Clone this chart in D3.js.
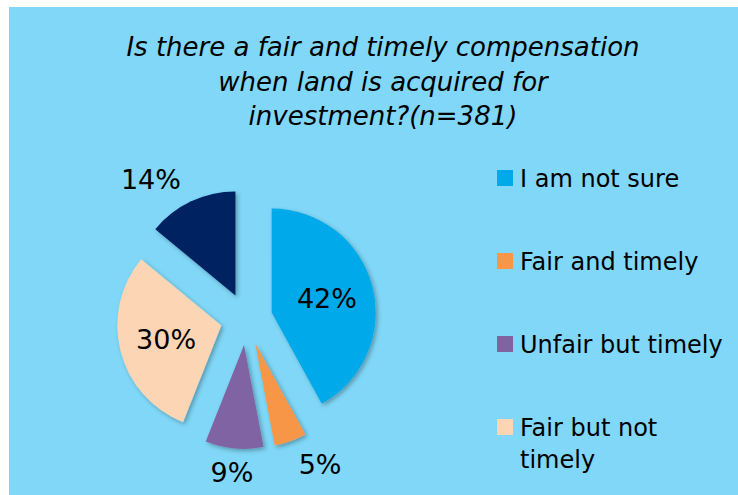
<!DOCTYPE html>
<html lang="en">
<head>
<meta charset="UTF-8">
<title>Fair and timely compensation</title>
<script src="https://d3js.org/d3.v7.min.js"></script>
<style>
    body{
        margin: 0;
        background: #fff;
    }
    svg text{
        font-family: "DejaVu Sans", Verdana, sans-serif;
        fill: #000;
    }
</style>
</head>
<body>
<svg width="738" height="495"></svg>
<script>
    // chart data
    const titleLines = ["Is there a fair and timely compensation", "when land is acquired for", "investment?(n=381)"];
    const categories = ["I am not sure", "Fair and timely", "Unfair but timely", "Fair but not timely", "Unfair and not timely"];
    const values = [42, 5, 9, 30, 14];
    const colors = ["#00a9ea", "#f79646", "#8064a2", "#fcd5b5", "#002060"];
    const legendCount = 4;   // last entry is cut off in the original

    const W = 738, H = 495;
    const cx = 246.5, cy = 319, R = 104, explode = 26;

    let svg = d3.select("svg");

    let defs = svg.append("defs");
    defs.append("filter").attr("id", "shadow")
        .attr("x", "-20%").attr("y", "-20%").attr("width", "140%").attr("height", "140%")
        .append("feDropShadow")
        .attr("dx", 2).attr("dy", 2).attr("stdDeviation", 2)
        .attr("flood-color", "#000").attr("flood-opacity", 0.3);

    // background panel
    svg.append("rect")
        .attr("x", 9).attr("y", 7)
        .attr("width", W - 9).attr("height", H - 7)
        .attr("fill", "#80d7f7");

    // title
    svg.append("g").selectAll("text")
        .data(titleLines)
        .enter().append("text")
        .attr("x", 383)
        .attr("y", (d, i) => 56 + i * 34.5)
        .attr("text-anchor", "middle")
        .attr("font-style", "italic")
        .attr("font-size", "26px")
        .text(d => d);

    // pie
    const pie = d3.pie().sort(null).value(d => d);
    const arcs = pie(values);
    const arc = d3.arc().innerRadius(0).outerRadius(R);

    const mid = d => (d.startAngle + d.endAngle) / 2;
    const offset = (d, r) => [Math.sin(mid(d)) * r, -Math.cos(mid(d)) * r];

    let g = svg.append("g").attr("transform", `translate(${cx},${cy})`);

    g.selectAll("path")
        .data(arcs)
        .enter().append("path")
        .attr("transform", d => `translate(${offset(d, explode)})`)
        .attr("d", arc)
        .attr("fill", (d, i) => colors[i])
        .attr("filter", "url(#shadow)");

    // labels: big slices inside, small ones outside
    g.selectAll("text")
        .data(arcs)
        .enter().append("text")
        .attr("font-size", "27px")
        .attr("dy", "0.36em")
        .attr("text-anchor", d => {
            if (d.value >= 20) return "middle";
            let s = Math.sin(mid(d));
            return Math.abs(s) < 0.2 ? "middle" : (s > 0 ? "start" : "end");
        })
        .attr("transform", d => {
            let p0 = offset(d, explode);
            let p1 = offset(d, d.value >= 20 ? 57 : 128);
            return `translate(${p0[0] + p1[0]},${p0[1] + p1[1]})`;
        })
        .text(d => d.value + "%");

    // legend
    const legendItems = categories.slice(0, legendCount);
    let legend = svg.append("g").attr("transform", "translate(497,170)");
    let item = legend.selectAll("g")
        .data(legendItems)
        .enter().append("g")
        .attr("transform", (d, i) => `translate(0,${i * 83})`);

    item.append("rect")
        .attr("width", 16).attr("height", 16)
        .attr("fill", (d, i) => colors[i]);

    item.append("text")
        .attr("x", 23)
        .attr("y", 17)
        .attr("font-size", "24px")
        .selectAll("tspan")
        .data(d => d === "Fair but not timely" ? ["Fair but not", "timely"] : [d])
        .enter().append("tspan")
        .attr("x", 23)
        .attr("dy", (d, i) => i === 0 ? 0 : 32)
        .text(d => d);
</script>
</body>
</html>
